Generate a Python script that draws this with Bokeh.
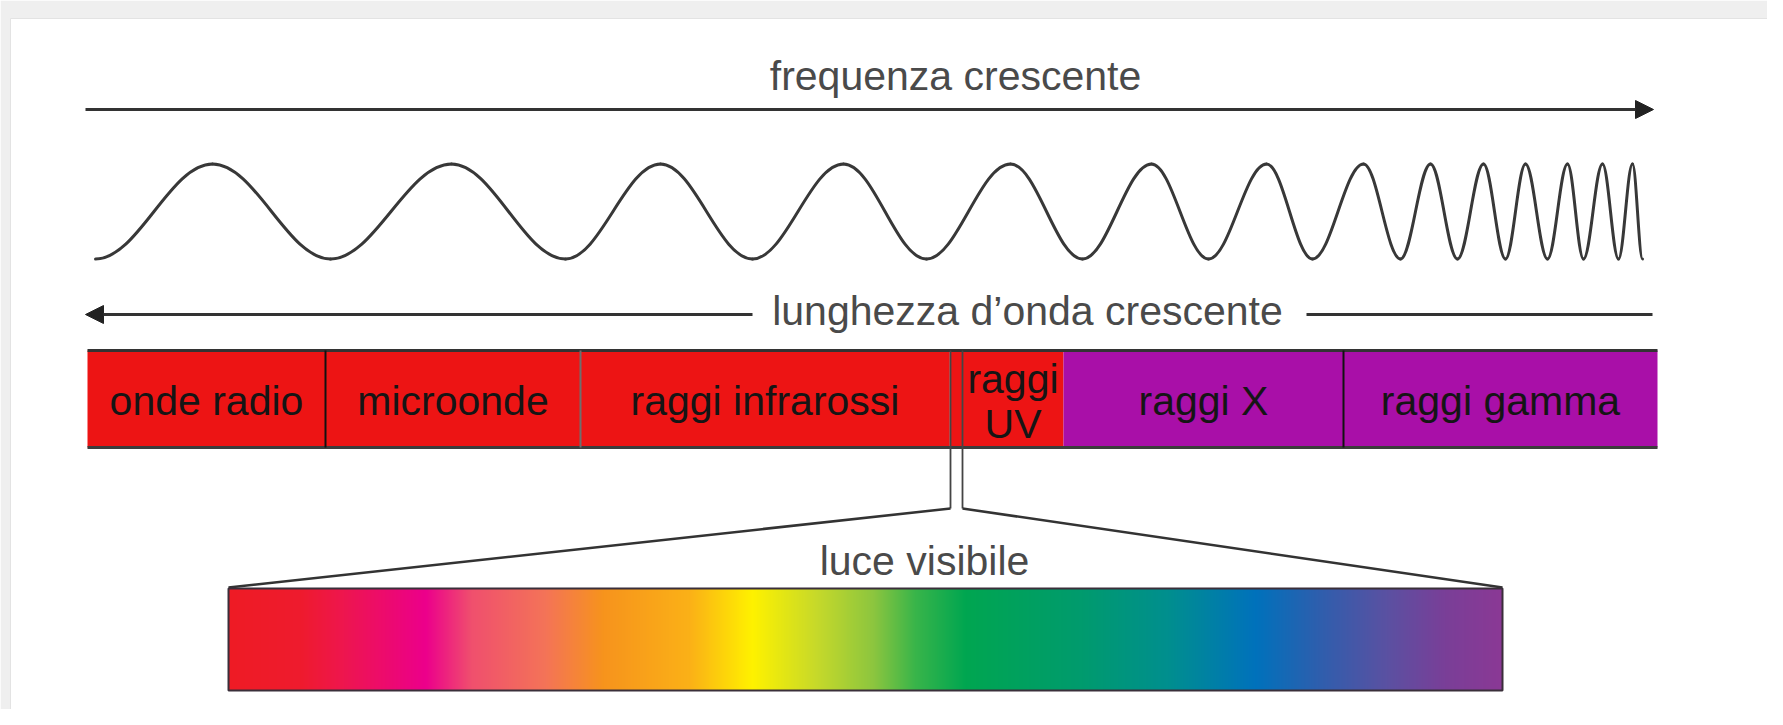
import numpy as np
from bokeh.plotting import figure
from bokeh.models import Range1d, Arrow, NormalHead
from bokeh.core.properties import value
from bokeh.embed import file_html
from bokeh.resources import INLINE

# ---------------- data (diagram units = reference pixels) -------------
band_labels = ["onde radio", "microonde", "raggi infrarossi", "", "raggi\nUV", "raggi X", "raggi gamma"]
band_start = [87, 325, 580, 949, 962, 1063, 1343]
band_end = [325, 580, 949, 962, 1063, 1343, 1657]
band_group = ["low", "low", "low", "low", "low", "high", "high"]

# wave extrema along the diagram (trough, peak, trough, ...)
wave_extrema = [95, 212, 330, 451, 565, 660, 752, 843, 926, 1010, 1082, 1151, 1208,
                1266, 1312, 1363, 1400, 1430, 1457, 1483, 1505, 1525, 1547, 1567,
                1583, 1602, 1618, 1632, 1642]

# visible-light spectrum colour stops
spectrum_stop_pos = [228, 300, 344, 425, 471, 545, 603, 689, 752, 815, 873, 915, 966,
                     1082, 1168, 1255, 1318, 1387, 1445, 1502]
spectrum_stop_col = ["#ee1c25", "#ef1b2e", "#ee1650", "#ec008c", "#f0506e", "#f47458",
                     "#f7941d", "#fbb117", "#fff200", "#c8da2a", "#8dc63f", "#39b54a",
                     "#00a651", "#009b6e", "#008f8f", "#0072bc", "#2e5fae", "#5b51a2",
                     "#7a3f98", "#8b3995"]

title_freq = "frequenza crescente"
title_wave = "lunghezza d\u2019onda crescente"
title_visible = "luce visibile"

# ---------------- figure ----------------
FONT = value("Liberation Sans")
TXT_DY = -13  # baseline correction for rendered text
p = figure(width=1767, height=709, x_range=Range1d(0, 1767), y_range=Range1d(709, 0),
           output_backend="svg", toolbar_location=None, min_border=0)
p.axis.visible = False
p.grid.visible = False
p.outline_line_color = None
p.background_fill_color = "white"
p.border_fill_color = "white"

# frame
p.quad(left=[0], right=[1767], top=[0], bottom=[709], fill_color="#efefef", line_color=None)
p.quad(left=[10], right=[1775], top=[18], bottom=[720], fill_color="white",
       line_color="#e3e3e3", line_width=1)

# frequency arrow + label
p.add_layout(Arrow(end=NormalHead(size=18, fill_color="#222222", line_color="#222222"),
                   x_start=85, y_start=109, x_end=1653, y_end=109,
                   line_width=3, line_color="#333333"))
p.text(x=[955], y=[88 + TXT_DY], text=[title_freq], text_font=FONT, text_font_size="41px",
       text_color="#4a4a4a", text_align="center", text_baseline="alphabetic")

# wave (cubic bezier half-waves between extrema)
y_trough, y_peak = 258.5, 163.5
ex = np.array(wave_extrema, dtype=float)
ey = np.array([y_trough if i % 2 == 0 else y_peak for i in range(len(ex))])
k = 0.3642
x0, x1 = ex[:-1], ex[1:]
y0, y1 = ey[:-1], ey[1:]
dx = x1 - x0
p.bezier(x0=x0, y0=y0, x1=x1, y1=y1, cx0=x0 + k * dx, cy0=y0, cx1=x1 - k * dx, cy1=y1,
         line_color="#383838", line_width=3, line_cap="round")

# wavelength arrow + label
p.add_layout(Arrow(end=NormalHead(size=18, fill_color="#222222", line_color="#222222"),
                   x_start=752, y_start=314, x_end=85, y_end=314,
                   line_width=3, line_color="#333333"))
p.segment(x0=[1306], y0=[314], x1=[1652], y1=[314], line_width=3, line_color="#333333")
p.text(x=[1027], y=[323 + TXT_DY], text=[title_wave], text_font=FONT, text_font_size="41px",
       text_color="#4a4a4a", text_align="center", text_baseline="alphabetic")

# band bar
group_color = {"low": "#ed1414", "high": "#a90fa8"}
p.quad(left=band_start, right=band_end, top=350, bottom=447,
       fill_color=[group_color[g] for g in band_group], line_color=None)
p.segment(x0=[87], y0=[350], x1=[1657], y1=[350], line_width=3, line_color="#333333")
p.segment(x0=[87], y0=[447], x1=[1657], y1=[447], line_width=3, line_color="#3c3c3c")
# dividers
p.segment(x0=[325, 1343], y0=[350, 350], x1=[325, 1343], y1=[447, 447],
          line_width=2, line_color="#111111")
p.segment(x0=[580], y0=[350], x1=[580], y1=[447], line_width=2, line_color="#6e6e6e")

# band labels
lx, ly, lt = [], [], []
for name, a, b in zip(band_labels, band_start, band_end):
    if not name:
        continue
    lines = name.split("\n")
    if len(lines) == 1:
        lx.append((a + b) / 2); ly.append(413 + TXT_DY); lt.append(name)
    else:
        for i, ln in enumerate(lines):
            lx.append((a + b) / 2); ly.append(391 + 45 * i + TXT_DY); lt.append(ln)
p.text(x=lx, y=ly, text=lt, text_font=FONT, text_font_size="41px",
       text_color="#151515", text_align="center", text_baseline="alphabetic")

# zoom connectors to the visible band
vis_l, vis_r = band_start[3] + 1, band_end[3]
sp_l, sp_r = spectrum_stop_pos[0], spectrum_stop_pos[-1]
p.segment(x0=[vis_l, vis_r], y0=[350, 350], x1=[vis_l, vis_r], y1=[508, 508],
          line_width=1.8, line_color="#444444")
p.segment(x0=[vis_l, vis_r], y0=[508, 508], x1=[sp_l, sp_r], y1=[587, 587],
          line_width=2.5, line_color="#333333")
p.text(x=[924], y=[573 + TXT_DY], text=[title_visible], text_font=FONT, text_font_size="41px",
       text_color="#4a4a4a", text_align="center", text_baseline="alphabetic")

# spectrum gradient
def hex2rgb(h):
    return [int(h[i:i + 2], 16) for i in (1, 3, 5)]
stops_rgb = np.array([hex2rgb(c) for c in spectrum_stop_col], dtype=float)
ncol = int(sp_r - sp_l)
xs = np.linspace(sp_l, sp_r, ncol)
img = np.empty((1, ncol), dtype=np.uint32)
view = img.view(dtype=np.uint8).reshape((1, ncol, 4))
for c in range(3):
    view[0, :, c] = np.interp(xs, spectrum_stop_pos, stops_rgb[:, c]).astype(np.uint8)
view[0, :, 3] = 255
p.image_rgba(image=[img], x=sp_l, y=588, dw=sp_r - sp_l, dh=102)
p.quad(left=[sp_l], right=[sp_r], top=[588], bottom=[690], fill_color=None,
       line_color="#3a2f3a", line_width=2)

open("out.html", "w").write(file_html(p, INLINE))
